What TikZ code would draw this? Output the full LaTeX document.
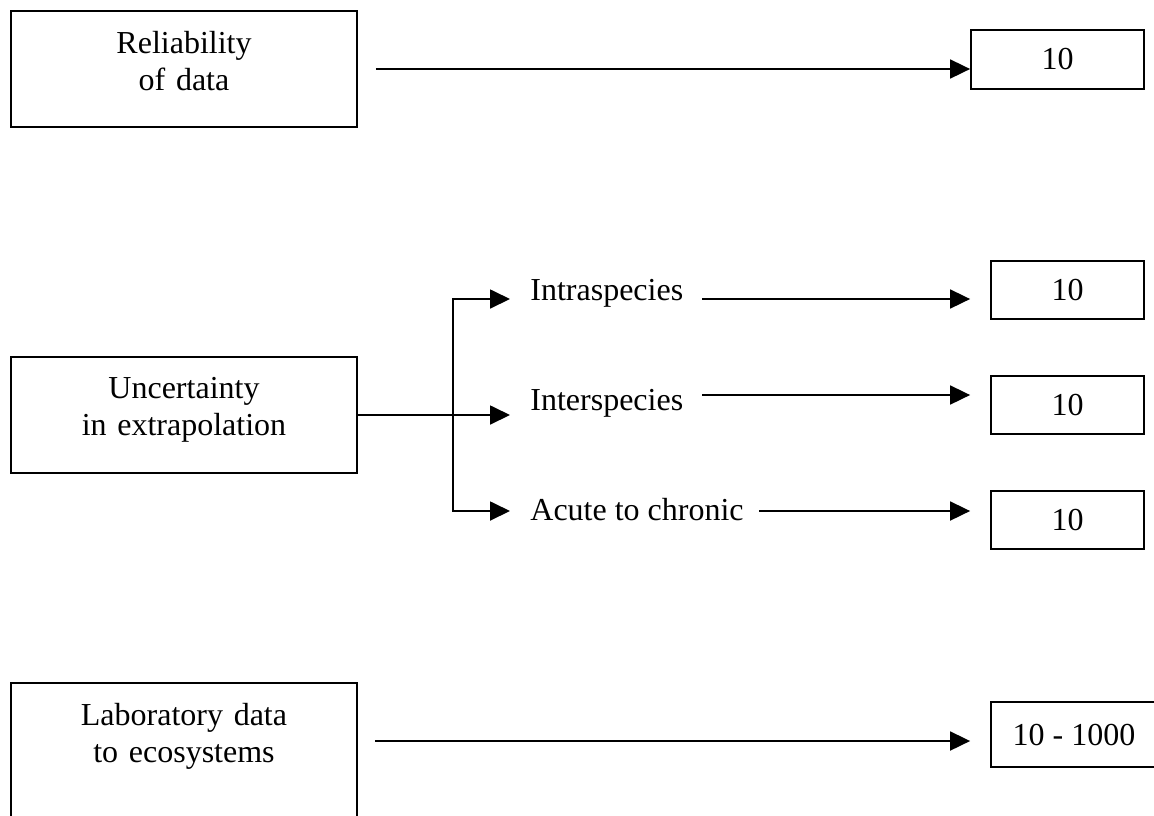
\documentclass[tikz,border=0pt]{standalone}
\usepackage{fontspec}
\setmainfont{Liberation Serif}
\usetikzlibrary{arrows.meta}
\begin{document}
\begin{tikzpicture}[x=0.5pt,y=-0.5pt,
  every node/.style={font=\fontsize{16}{18.5}\selectfont},
  box/.style={draw,line width=0.9pt,inner sep=0pt},
  boxtext/.style={inner sep=0pt,text width=170pt,align=center,anchor=base},
  sidetext/.style={inner sep=0pt,anchor=base west},
  link/.style={line width=0.9pt},
  arr/.style={link,-{Triangle[length=10pt,width=9.5pt]}}]
\useasboundingbox (0,0) rectangle (1154,815);
\clip (0,0) rectangle (1154,815);

% factor boxes on the left
\node[box,minimum width=173pt,minimum height=58pt] (b1) at (184,69) {};
\node[boxtext] (b1t) at (184,53) {Reliability\\of data};
\node[box,minimum width=173pt,minimum height=58pt] (b2) at (184,415) {};
\node[boxtext] (b2t) at (184,398) {Uncertainty\\in extrapolation};
\node[box,minimum width=173pt,minimum height=70pt] (b3) at (184,753) {};
\node[boxtext] (b3t) at (184,725) {Laboratory data\\to ecosystems};

% extrapolation steps
\node[sidetext] (intra) at (530,300) {Intraspecies};
\node[sidetext] (inter) at (530,410) {Interspecies};
\node[sidetext] (acute) at (530,520) {Acute to chronic};

% factor values on the right
\node[box,minimum width=86.5pt,minimum height=29.5pt] (r1) at (1057.5,59.5) {10};
\node[box,minimum width=76.5pt,minimum height=29pt] (r2a) at (1067.5,290) {10};
\node[box,minimum width=76.5pt,minimum height=29pt] (r2b) at (1067.5,405) {10};
\node[box,minimum width=76.5pt,minimum height=29pt] (r2c) at (1067.5,520) {10};
\node[box,minimum width=83pt,minimum height=32.5pt] (r3) at (1074,734.5) {10 - 1000};

% row 1
\draw[arr] ([xshift=9pt]b1.east) -- (b1.east -| r1.west);

% row 2: branching
\coordinate (fork) at (453,415);
\coordinate (in1) at (510,299);
\coordinate (in3) at (510,511);
\draw[arr] (b2.east) -- (b2.east -| in1);
\draw[arr] (fork) |- (in1);
\draw[arr] (fork) |- (in3);

\coordinate (o1) at (702,299);
\coordinate (o2) at (702,395);
\coordinate (o3) at (759,511);
\draw[arr] (o1) -- ([xshift=-10pt]o1 -| r2a.west);
\draw[arr] (o2) -- ([xshift=-10pt]o2 -| r2b.west);
\draw[arr] (o3) -- ([xshift=-10pt]o3 -| r2c.west);

% row 3
\coordinate (o4) at (375,741);
\draw[arr] (o4) -- ([xshift=-10pt]o4 -| r3.west);
\end{tikzpicture}
\end{document}
